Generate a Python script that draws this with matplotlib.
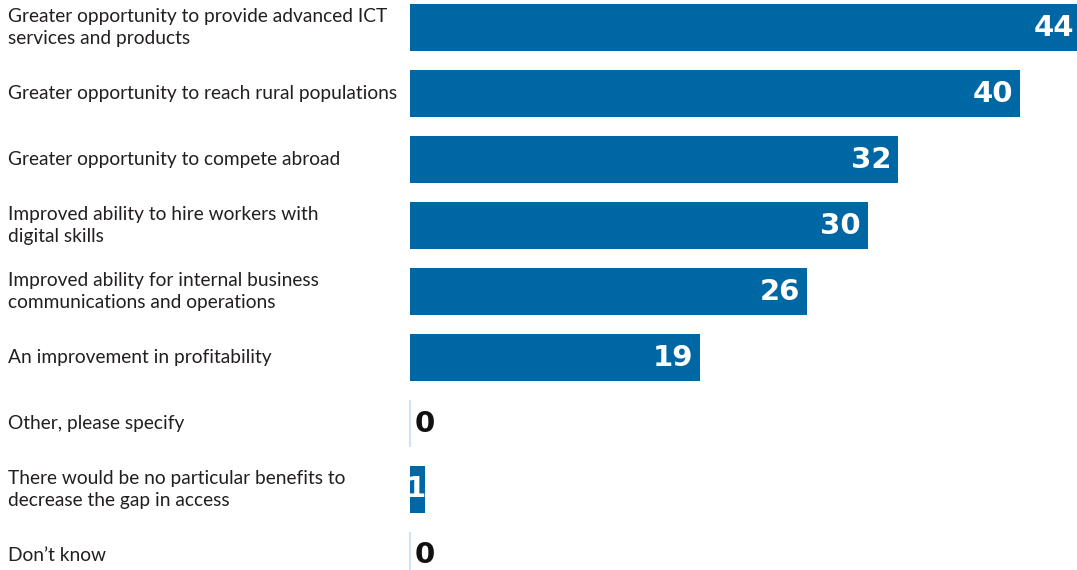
import matplotlib.pyplot as plt
import numpy as np

# Benefits of closing the access gap (share of respondents)
labels = [
    "Greater opportunity to provide advanced ICT\nservices and products",
    "Greater opportunity to reach rural populations",
    "Greater opportunity to compete abroad",
    "Improved ability to hire workers with\ndigital skills",
    "Improved ability for internal business\ncommunications and operations",
    "An improvement in profitability",
    "Other, please specify",
    "There would be no particular benefits to\ndecrease the gap in access",
    "Don\u2019t know",
]
values = [44, 40, 32, 30, 26, 19, 0, 1, 0]

bar_color = "#0067a5"
zero_color = "#d3e2ef"
text_color = "#231f20"

fig = plt.figure(figsize=(10.77, 5.70), dpi=100)
ax = fig.add_axes([410 / 1077, 0, 667 / 1077, 1])

y = np.arange(len(values))
ax.barh(y, values, height=0.715, color=bar_color, linewidth=0)

# zero answers get a faint stub line instead of a bar
for yi, v in zip(y, values):
    if v == 0:
        ax.plot([0, 0], [yi - 0.357, yi + 0.357], color=zero_color, lw=1.5,
                solid_capstyle="butt", clip_on=False)

ax.set_xlim(0, 43.71)
ax.set_ylim(8.22, -0.418)
ax.axis("off")

# value labels
for yi, v in zip(y, values):
    if v == 0:
        ax.annotate(str(v), (0, yi), xytext=(3, 0), textcoords="offset points",
                    ha="left", va="center", fontsize=21, fontweight="bold",
                    family="DejaVu Sans", color="#111111", annotation_clip=False)
    else:
        off = -5 if v >= 5 else 0.5
        ax.annotate(str(v), (v, yi), xytext=(off, 0), textcoords="offset points",
                    ha="right", va="center", fontsize=21, fontweight="bold",
                    family="DejaVu Sans", color="white", annotation_clip=False)

# category labels on the left
for yi, lab in zip(y, labels):
    ax.annotate(lab, (0, yi), xycoords=("figure fraction", "data"),
                xytext=(6, 0), textcoords="offset points",
                ha="left", va="center", fontsize=13.8, family="Lato",
                color=text_color, linespacing=1.4)

fig.savefig("out.png", dpi=100)
